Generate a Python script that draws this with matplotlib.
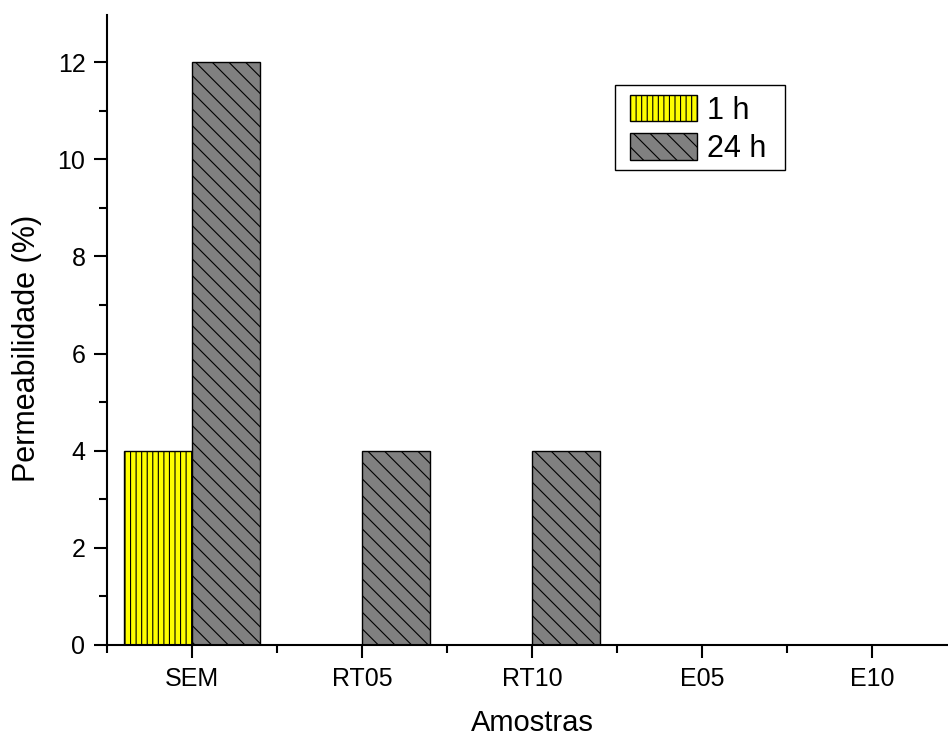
import matplotlib
matplotlib.use("Agg")
import matplotlib.pyplot as plt
import numpy as np
from matplotlib.patches import Rectangle
from matplotlib.ticker import MultipleLocator

# data
amostras = ["SEM", "RT05", "RT10", "E05", "E10"]
perm_1h = [4, 0, 0, 0, 0]
perm_24h = [12, 4, 4, 0, 0]

plt.rcParams["font.family"] = ["Liberation Sans", "DejaVu Sans"]
plt.rcParams["hatch.linewidth"] = 0.8

W, H = 948, 736
fig = plt.figure(figsize=(W / 100, H / 100), dpi=100)
# axes box in pixel coords: left 107, bottom 645, right 957 (x=4.5), top 15
ax = fig.add_axes([107 / W, (H - 645) / H, 850 / W, 630 / H])

x = np.arange(len(amostras))
w = 0.4
ax.bar(x - w, perm_1h, width=w, align="edge", color="#ffff00",
       edgecolor="black", linewidth=1, hatch="|||", label="1 h")
ax.bar(x, perm_24h, width=w, align="edge", color="#808080",
       edgecolor="black", linewidth=1, hatch="\\\\", label="24 h")

ax.set_xlim(-0.5, 4.5)
ax.set_ylim(0, 12.97)
ax.set_xticks(x)
ax.set_xticklabels(amostras)
ax.xaxis.set_minor_locator(MultipleLocator(1, offset=0.5))
ax.yaxis.set_major_locator(MultipleLocator(2))
ax.yaxis.set_minor_locator(MultipleLocator(1))

for s in ["top", "right"]:
    ax.spines[s].set_visible(False)
for s in ["left", "bottom"]:
    ax.spines[s].set_linewidth(1.5)

ax.tick_params(which="major", direction="out", length=9.5, width=1.5,
               labelsize=18, pad=6)
ax.tick_params(which="minor", direction="out", length=5.5, width=1.5)

ax.set_xlabel("Amostras", fontsize=21, labelpad=13)
ax.set_ylabel("Permeabilidade (%)", fontsize=22)
ax.yaxis.set_label_coords(-0.076, 0.471)

# legend without its own frame, boxed separately (Origin-style box)
leg = ax.legend(loc="upper left", bbox_to_anchor=(630 / W, 1 - 95 / H),
                bbox_transform=fig.transFigure, borderaxespad=0,
                frameon=False, fontsize=22, handlelength=2.2,
                handleheight=0.95, handletextpad=0.33, labelspacing=0.25,
                borderpad=0)
leg.set_zorder(6)
ax.add_patch(Rectangle((615 / W, 1 - 170 / H), 170 / W, 85 / H,
                       transform=fig.transFigure, fill=False,
                       edgecolor="black", linewidth=1, clip_on=False,
                       zorder=5))

fig.savefig("out.png", dpi=100)
